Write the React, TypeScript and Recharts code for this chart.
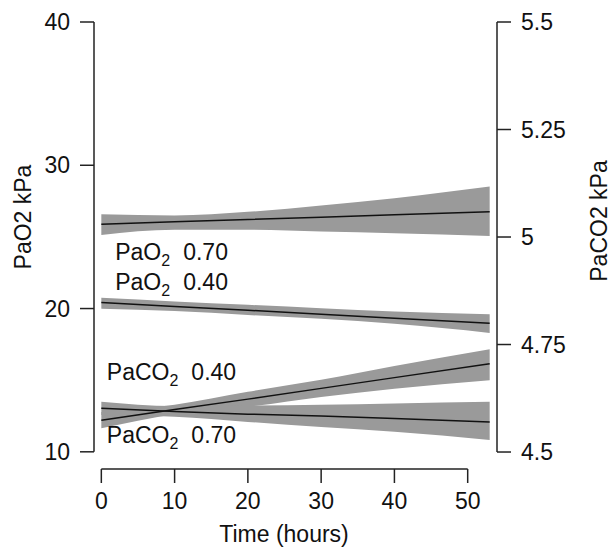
import React from "react";
import {
  ComposedChart,
  Area,
  Line,
  XAxis,
  YAxis,
  ReferenceLine,
  ReferenceDot,
} from "recharts";

// ---- data ----
const hours = [0, 10, 20, 30, 40, 53];

// PaO2 (left axis, kPa)
const pao2_070 = [25.89, 26.05, 26.22, 26.38, 26.55, 26.76];
const pao2_070_lo = [25.14, 25.5, 25.5, 25.38, 25.26, 25.07];
const pao2_070_hi = [26.58, 26.5, 26.75, 27.2, 27.7, 28.51];

const pao2_040 = [20.42, 20.15, 19.88, 19.6, 19.33, 18.97];
const pao2_040_lo = [19.98, 19.82, 19.55, 19.28, 18.93, 18.3];
const pao2_040_hi = [20.75, 20.5, 20.26, 20.02, 19.8, 19.6];

// PaCO2 (right axis, kPa)
const paco2_040 = [4.574, 4.599, 4.623, 4.648, 4.673, 4.705];
const paco2_040_lo = [4.555, 4.588, 4.605, 4.628, 4.647, 4.667];
const paco2_040_hi = [4.593, 4.61, 4.64, 4.668, 4.7, 4.739];

const paco2_070 = [4.602, 4.594, 4.588, 4.584, 4.578, 4.57];
const paco2_070_lo = [4.586, 4.582, 4.57, 4.558, 4.547, 4.528];
const paco2_070_hi = [4.617, 4.607, 4.608, 4.61, 4.613, 4.617];

const xTicks = [0, 10, 20, 30, 40, 50];
const leftTicks = [10, 20, 30, 40];
const rightTicks = [4.5, 4.75, 5, 5.25, 5.5];
const rightTickLabels = ["4.5", "4.75", "5", "5.25", "5.5"];

// annotation labels: [main, subscript, value, x (hours), y (left-axis kPa)]
const annotations: [string, string, string, number, number][] = [
  ["PaO", "2", "0.70", 1.9, 23.4],
  ["PaO", "2", "0.40", 1.9, 21.3],
  ["PaCO", "2", "0.40", 0.75, 15.02],
  ["PaCO", "2", "0.70", 0.75, 10.6],
];

const table = hours.map((h, i) => ({
  h,
  o70: pao2_070[i],
  o70r: [pao2_070_lo[i], pao2_070_hi[i]],
  o40: pao2_040[i],
  o40r: [pao2_040_lo[i], pao2_040_hi[i]],
  c40: paco2_040[i],
  c40r: [paco2_040_lo[i], paco2_040_hi[i]],
  c70: paco2_070[i],
  c70r: [paco2_070_lo[i], paco2_070_hi[i]],
}));

const FONT = "'Liberation Sans', Arial, Helvetica, sans-serif";
const FS = 23;
const AXIS = "#222";
const BAND = "#9a9a9a";

const LEFT_DOMAIN: [number, number] = [8.8, 40];
const RIGHT_DOMAIN: [number, number] = [4.4605, 5.5];

const tickStyle = { fontSize: FS, fontFamily: FONT, fill: "#111" };

const Annot = (props: any) => {
  const { viewBox, main, sub, value } = props;
  if (!viewBox) return null;
  return (
    <text
      x={viewBox.x}
      y={viewBox.y}
      fontFamily={FONT}
      fontSize={FS}
      fill="#111"
    >
      <tspan>{main}</tspan>
      <tspan fontSize={16} dy={6}>
        {sub}
      </tspan>
      <tspan dx={13} dy={-6}>
        {value}
      </tspan>
    </text>
  );
};

export default function App() {
  return (
    <div style={{ position: "absolute", left: 0, top: 0, background: "#fff" }}>
      <ComposedChart
        width={613}
        height={553}
        data={table}
        margin={{ top: 22, right: 0, bottom: 0, left: 0 }}
      >
        <XAxis
          dataKey="h"
          type="number"
          domain={[-1, 54]}
          ticks={xTicks}
          axisLine={false}
          tickSize={14}
          tickMargin={10}
          tickLine={{ stroke: AXIS, strokeWidth: 1.5 }}
          tick={tickStyle}
          height={84}
          interval={0}
          label={{
            content: () => (
              <text
                x={284}
                y={542}
                textAnchor="middle"
                fontFamily={FONT}
                fontSize={FS}
                fill="#111"
              >
                Time (hours)
              </text>
            ),
          }}
        />
        <YAxis
          yAxisId="left"
          orientation="left"
          domain={LEFT_DOMAIN}
          ticks={leftTicks}
          width={94}
          axisLine={false}
          tickSize={14}
          tickMargin={10}
          tickLine={{ stroke: AXIS, strokeWidth: 1.5 }}
          tick={tickStyle}
          interval={0}
          allowDataOverflow
          label={{
            content: () => (
              <text
                transform="translate(31, 217) rotate(-90)"
                textAnchor="middle"
                fontFamily={FONT}
                fontSize={FS}
                fill="#111"
              >
                PaO2 kPa
              </text>
            ),
          }}
        />
        <YAxis
          yAxisId="right"
          orientation="right"
          domain={RIGHT_DOMAIN}
          ticks={rightTicks}
          tickFormatter={(v: number) => rightTickLabels[rightTicks.indexOf(v)] ?? String(v)}
          width={116}
          axisLine={false}
          tickSize={14}
          tickMargin={10}
          tickLine={{ stroke: AXIS, strokeWidth: 1.5 }}
          tick={tickStyle}
          interval={0}
          allowDataOverflow
          label={{
            content: () => (
              <text
                transform="translate(607, 221) rotate(-90)"
                textAnchor="middle"
                fontFamily={FONT}
                fontSize={FS}
                fill="#111"
              >
                PaCO2 kPa
              </text>
            ),
          }}
        />

        {/* confidence bands */}
        <Area yAxisId="left" dataKey="o70r" type="monotone" fill={BAND} fillOpacity={1} stroke="none" isAnimationActive={false} />
        <Area yAxisId="left" dataKey="o40r" type="monotone" fill={BAND} fillOpacity={1} stroke="none" isAnimationActive={false} />
        <Area yAxisId="right" dataKey="c40r" type="monotone" fill={BAND} fillOpacity={1} stroke="none" isAnimationActive={false} />
        <Area yAxisId="right" dataKey="c70r" type="monotone" fill={BAND} fillOpacity={1} stroke="none" isAnimationActive={false} />

        {/* fitted lines */}
        <Line yAxisId="left" dataKey="o70" type="linear" stroke="#111" strokeWidth={1.5} dot={false} isAnimationActive={false} />
        <Line yAxisId="left" dataKey="o40" type="linear" stroke="#111" strokeWidth={1.5} dot={false} isAnimationActive={false} />
        <Line yAxisId="right" dataKey="c40" type="linear" stroke="#111" strokeWidth={1.5} dot={false} isAnimationActive={false} />
        <Line yAxisId="right" dataKey="c70" type="linear" stroke="#111" strokeWidth={1.5} dot={false} isAnimationActive={false} />

        {/* axis lines (R style, offset) */}
        <ReferenceLine
          yAxisId="left"
          segment={[{ x: -1, y: 10 }, { x: -1, y: 40 }]}
          stroke={AXIS}
          strokeWidth={1.5}
          ifOverflow="visible"
        />
        <ReferenceLine
          yAxisId="right"
          segment={[{ x: 54, y: 4.5 }, { x: 54, y: 5.5 }]}
          stroke={AXIS}
          strokeWidth={1.5}
          ifOverflow="visible"
        />
        <ReferenceLine
          yAxisId="left"
          segment={[{ x: 0, y: LEFT_DOMAIN[0] }, { x: 50, y: LEFT_DOMAIN[0] }]}
          stroke={AXIS}
          strokeWidth={1.5}
          ifOverflow="visible"
        />

        {annotations.map(([main, sub, value, x, y], i) => (
          <ReferenceDot
            key={i}
            yAxisId="left"
            x={x}
            y={y}
            r={0}
            stroke="none"
            fill="none"
            ifOverflow="visible"
            label={{
              content: (p: any) => (
                <Annot viewBox={p.viewBox} main={main} sub={sub} value={value} />
              ),
            }}
          />
        ))}
      </ComposedChart>
    </div>
  );
}
